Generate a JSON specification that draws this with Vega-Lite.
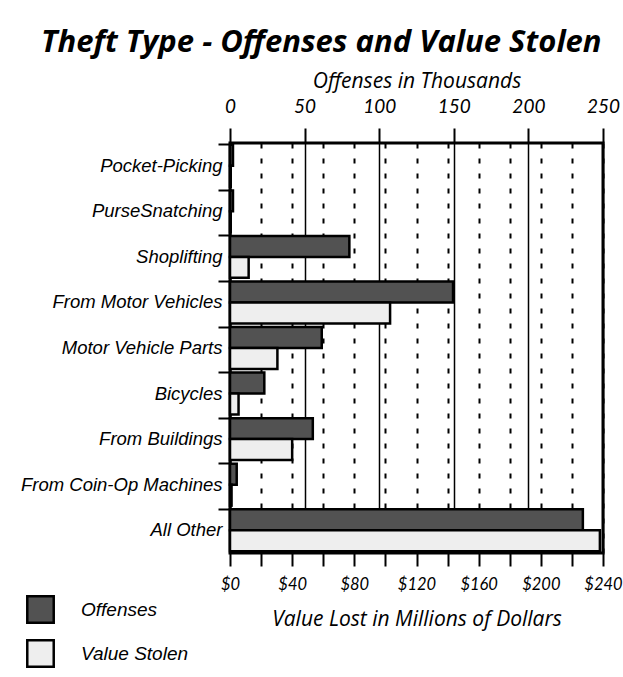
{
  "$schema": "https://vega.github.io/schema/vega-lite/v6.json",
  "width": 373,
  "height": 410,
  "padding": {"left": 20, "top": 27, "right": 10, "bottom": 10},
  "background": "white",
  "title": {
    "text": "Theft Type - Offenses and Value Stolen",
    "font": "Open Sans",
    "fontSize": 31,
    "fontWeight": "bold",
    "fontStyle": "italic",
    "color": "black",
    "anchor": "middle",
    "frame": "bounds",
    "offset": 11
  },
  "data": {
    "values": [
      {"category": "Pocket-Picking", "series": "Offenses", "value": 2},
      {"category": "Pocket-Picking", "series": "Value Stolen", "value": 0.5},
      {"category": "PurseSnatching", "series": "Offenses", "value": 2},
      {"category": "PurseSnatching", "series": "Value Stolen", "value": 0.5},
      {"category": "Shoplifting", "series": "Offenses", "value": 80},
      {"category": "Shoplifting", "series": "Value Stolen", "value": 12},
      {"category": "From Motor Vehicles", "series": "Offenses", "value": 149.5},
      {"category": "From Motor Vehicles", "series": "Value Stolen", "value": 103},
      {"category": "Motor Vehicle Parts", "series": "Offenses", "value": 61.5},
      {"category": "Motor Vehicle Parts", "series": "Value Stolen", "value": 30.5},
      {"category": "Bicycles", "series": "Offenses", "value": 23},
      {"category": "Bicycles", "series": "Value Stolen", "value": 5.5},
      {"category": "From Buildings", "series": "Offenses", "value": 55.5},
      {"category": "From Buildings", "series": "Value Stolen", "value": 40},
      {"category": "From Coin-Op Machines", "series": "Offenses", "value": 4.5},
      {"category": "From Coin-Op Machines", "series": "Value Stolen", "value": 1},
      {"category": "All Other", "series": "Offenses", "value": 236.5},
      {"category": "All Other", "series": "Value Stolen", "value": 238}
    ]
  },
  "encoding": {
    "y": {
      "field": "category",
      "type": "nominal",
      "sort": null,
      "scale": {"paddingInner": 0.08, "paddingOuter": 0.04},
      "axis": {
        "title": null,
        "bandPosition": 0,
        "tickSize": 12,
        "tickWidth": 2,
        "tickColor": "black",
        "domain": false,
        "labelFont": "Liberation Sans",
        "labelFontStyle": "italic",
        "labelFontSize": 18.5,
        "labelColor": "black",
        "labelPadding": -4,
        "labelLimit": 400,
        "labelBaseline": "middle"
      }
    },
    "yOffset": {
      "field": "series",
      "type": "nominal",
      "scale": {"domain": ["Offenses", "Value Stolen"], "paddingInner": 0, "paddingOuter": 0}
    },
    "color": {
      "field": "series",
      "type": "nominal",
      "scale": {"domain": ["Offenses", "Value Stolen"], "range": ["#525252", "#eeeeee"]},
      "legend": {
        "title": null,
        "orient": "none",
        "legendX": -204,
        "legendY": 452,
        "symbolType": "square",
        "symbolSize": 700,
        "symbolStrokeColor": "black",
        "symbolStrokeWidth": 2.5,
        "labelFont": "Liberation Sans",
        "labelFontStyle": "italic",
        "labelFontSize": 19,
        "labelColor": "black",
        "labelOffset": 26,
        "rowPadding": 7,
        "padding": 0
      }
    }
  },
  "layer": [
    {
      "transform": [{"filter": "datum.series == 'Offenses'"}],
      "mark": {"type": "bar", "stroke": "black", "strokeWidth": 2.5, "opacity": 1},
      "encoding": {
        "x": {
          "field": "value",
          "type": "quantitative",
          "scale": {"domain": [0, 250], "nice": false, "zero": true},
          "axis": {
            "orient": "top",
            "title": "Offenses in Thousands",
            "values": [0, 50, 100, 150, 200, 250],
            "grid": true,
            "gridColor": "black",
            "gridWidth": 1.5,
            "gridOpacity": 1,
            "tickSize": 15,
            "tickWidth": 2,
            "tickColor": "black",
            "domain": false,
            "labelFont": "Lato",
            "labelFontStyle": "italic",
            "labelFontSize": 19,
            "labelColor": "black",
            "labelPadding": 12,
            "labelFlush": false,
            "titleFont": "Open Sans",
            "titleFontStyle": "italic",
            "titleFontWeight": "normal",
            "titleFontSize": 21,
            "titleColor": "black",
            "titlePadding": 6
          }
        }
      }
    },
    {
      "transform": [{"filter": "datum.series == 'Value Stolen'"}],
      "mark": {"type": "bar", "stroke": "black", "strokeWidth": 2.5, "opacity": 1},
      "encoding": {
        "x": {
          "field": "value",
          "type": "quantitative",
          "scale": {"domain": [0, 240], "nice": false, "zero": true},
          "axis": {
            "orient": "bottom",
            "title": "Value Lost in Millions of Dollars",
            "values": [0, 20, 40, 60, 80, 100, 120, 140, 160, 180, 200, 220, 240],
            "labelExpr": "datum.value % 40 == 0 ? '$' + datum.value : ''",
            "grid": true,
            "gridColor": "black",
            "gridWidth": 2,
            "gridDash": [5, 10],
            "gridOpacity": 1,
            "tickSize": 13,
            "tickWidth": 2,
            "tickColor": "black",
            "domain": false,
            "labelFont": "Lato",
            "labelFontStyle": "italic",
            "labelFontSize": 16.5,
            "labelColor": "black",
            "labelPadding": 10,
            "labelFlush": false,
            "titleFont": "Open Sans",
            "titleFontStyle": "italic",
            "titleFontWeight": "normal",
            "titleFontSize": 21,
            "titleColor": "black",
            "titlePadding": 16
          }
        }
      }
    }
  ],
  "resolve": {"scale": {"x": "independent"}, "axis": {"x": "independent"}},
  "config": {
    "view": {"stroke": "black", "strokeWidth": 3}
  }
}
